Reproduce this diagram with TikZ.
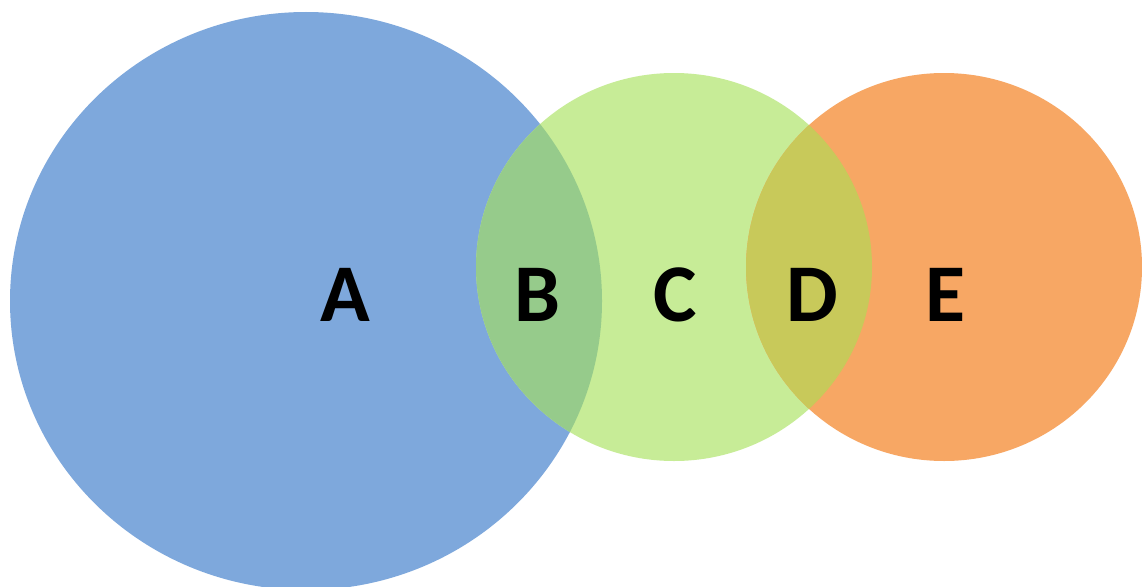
\documentclass[tikz,border=0pt]{standalone}
\usepackage{fontspec}
\setmainfont{Carlito}
\definecolor{cblue}{HTML}{7EA8DC}
\definecolor{cgreen}{HTML}{C7EC97}
\definecolor{corange}{HTML}{F7A764}
\definecolor{cbg}{HTML}{96CB8B}
\definecolor{cdg}{HTML}{C8C95A}
\tikzset{lbl/.style={font=\fontsize{82}{82}\selectfont\bfseries, anchor=base, inner sep=0pt}}
\begin{document}
\begin{tikzpicture}[x=1pt,y=-1pt]
\useasboundingbox (0,0) rectangle (1142,586);
\fill[white] (0,0) rectangle (1142,586);
\clip (0,0) rectangle (1142,586);
\fill[cblue] (306,301) ellipse [x radius=296, y radius=289];
\fill[cgreen] (674,267) ellipse [x radius=198, y radius=194];
\fill[corange] (944,267) ellipse [x radius=198, y radius=194];
\begin{scope}
\clip (306,301) ellipse [x radius=296, y radius=289];
\fill[cbg] (674,267) ellipse [x radius=198, y radius=194];
\end{scope}
\begin{scope}
\clip (944,267) ellipse [x radius=198, y radius=194];
\fill[cdg] (674,267) ellipse [x radius=198, y radius=194];
\end{scope}
\node[lbl] (a) at (345,321) {A};
\node[lbl] (b) at (537,321) {B};
\node[lbl] (c) at (675,321) {C};
\node[lbl] (d) at (812,321) {D};
\node[lbl] (e) at (945,321) {E};
\end{tikzpicture}
\end{document}
